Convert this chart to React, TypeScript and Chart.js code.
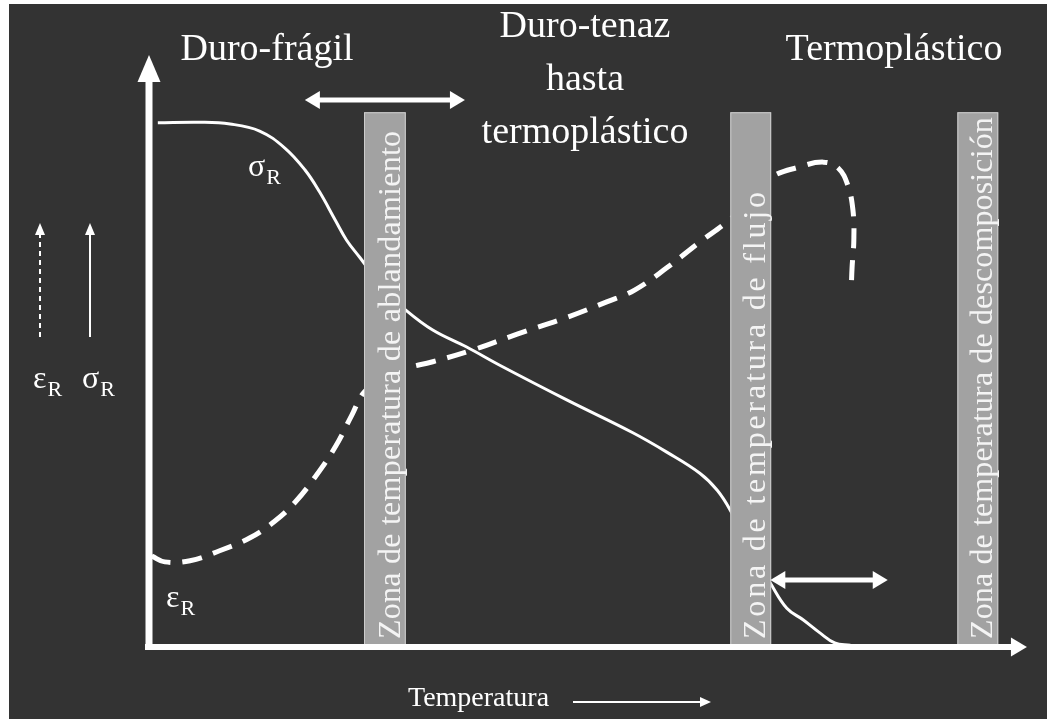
import React, { useEffect, useRef } from "react";
import { Chart, registerables } from "chart.js";

Chart.register(...registerables);

// Temperature axis: 0–100 (arbitrary units); property axis: 0–100 (arbitrary units)
const sigmaTemp = [0.9, 5.75, 9.2, 12.6, 15.5, 17.8, 19.5, 21.3, 22.6, 24.1, 27.0, 29.4, 32.5, 36.4, 40.2, 47.9, 55.5, 59.4, 63.2, 65.2, 66.7, 69.0, 71.3, 73.2, 75.1, 77.0, 78.7, 80.5];
const sigmaVal = [89.3, 89.4, 89.1, 87.9, 85.0, 81.3, 77.5, 72.7, 69.3, 66.4, 60.8, 57.4, 54.0, 51.1, 48.0, 42.1, 36.5, 33.2, 29.6, 26.7, 23.3, 16.5, 10.9, 6.6, 4.6, 2.4, 0.7, 0.3];

const epsTemp = [0.2, 1.7, 4.6, 8.0, 11.5, 14.4, 16.7, 19.0, 21.3, 23.2, 24.6, 27.0, 29.4, 32.5, 37.1, 42.2, 48.0, 52.5, 55.7, 59.4, 63.2, 66.3, 69.0, 71.3, 74.7, 77.4, 79.1, 80.2, 80.8, 80.9, 80.7, 80.6];
const epsVal = [15.5, 14.5, 14.7, 16.4, 18.6, 21.5, 24.7, 29.0, 34.1, 39.5, 43.4, 46.3, 47.5, 48.6, 50.6, 53.3, 56.2, 58.8, 60.8, 64.6, 69.0, 72.4, 76.1, 79.9, 81.8, 82.6, 81.6, 78.7, 74.4, 69.3, 64.7, 60.8];

const zoneLabels = [
  "Zona de temperatura de ablandamiento",
  "Zona de temperatura de flujo",
  "Zona de temperatura de descomposición",
];
const zoneStart = [24.6, 66.7, 92.8];
const zoneEnd = [29.4, 71.4, 97.5];
const zoneTop = [91.1, 91.1, 91.1];

const regionLabels = [["Duro-frágil"], ["Duro-tenaz", "hasta", "termoplástico"], ["Termoplástico"]];
const rangeFrom = [17.8, 71.3];
const rangeTo = [36.2, 84.8];
const rangeAt = [93.2, 11.4];

const xAxisLabel = "Temperatura";
const sigmaName = ["σ", "R"];
const epsName = ["ε", "R"];

const SERIF = '"Liberation Serif", "Times New Roman", serif';
const W = 1038;
const H = 715;

function head(ctx: CanvasRenderingContext2D, tx: number, ty: number, ux: number, uy: number, len: number, half: number) {
  const nx = -uy, ny = ux;
  const bx = tx - ux * len, by = ty - uy * len;
  ctx.beginPath();
  ctx.moveTo(tx, ty);
  ctx.lineTo(bx + nx * half, by + ny * half);
  ctx.lineTo(bx - nx * half, by - ny * half);
  ctx.closePath();
  ctx.fill();
}

function arrow(ctx: CanvasRenderingContext2D, x1: number, y1: number, x2: number, y2: number, width: number, len: number, half: number, both: boolean, dash?: number[]) {
  const dx = x2 - x1, dy = y2 - y1;
  const L = Math.hypot(dx, dy);
  const ux = dx / L, uy = dy / L;
  ctx.save();
  ctx.lineWidth = width;
  ctx.lineCap = "butt";
  ctx.setLineDash(dash || []);
  ctx.beginPath();
  ctx.moveTo(both ? x1 + ux * len * 0.7 : x1, both ? y1 + uy * len * 0.7 : y1);
  ctx.lineTo(x2 - ux * len * 0.7, y2 - uy * len * 0.7);
  ctx.stroke();
  ctx.setLineDash([]);
  head(ctx, x2, y2, ux, uy, len, half);
  if (both) head(ctx, x1, y1, -ux, -uy, len, half);
  ctx.restore();
}

function subLabel(ctx: CanvasRenderingContext2D, parts: string[], x: number, y: number, big: number, small: number) {
  ctx.save();
  ctx.fillStyle = "#ffffff";
  ctx.textAlign = "left";
  ctx.textBaseline = "alphabetic";
  ctx.font = `${big}px ${SERIF}`;
  ctx.fillText(parts[0], x, y);
  const w = ctx.measureText(parts[0]).width;
  ctx.font = `${small}px ${SERIF}`;
  ctx.fillText(parts[1], x + w + 1, y + small * 0.35);
  ctx.restore();
}

const diagramPlugin = {
  id: "diagram",
  afterDatasetsDraw(chart: any) {
    const ctx: CanvasRenderingContext2D = chart.ctx;
    const xs = chart.scales.x;
    const ys = chart.scales.y;
    const px = (v: number) => xs.getPixelForValue(v);
    const py = (v: number) => ys.getPixelForValue(v);
    const y0 = py(0);

    // zones
    ctx.save();
    zoneLabels.forEach((label, i) => {
      const l = px(zoneStart[i]);
      const r = px(zoneEnd[i]);
      const t = py(zoneTop[i]);
      ctx.fillStyle = "#a2a2a2";
      ctx.fillRect(l, t, r - l, y0 - t);
      ctx.strokeStyle = "#cdcdcd";
      ctx.lineWidth = 1;
      ctx.strokeRect(l + 0.5, t + 0.5, r - l - 1, y0 - t - 1);
      // vertical label
      ctx.save();
      ctx.translate(r - 6, y0 - 8);
      ctx.rotate(-Math.PI / 2);
      ctx.font = `32px ${SERIF}`;
      const targets = [508, 447, 522];
      const natural = ctx.measureText(label).width;
      const spacing = (targets[i] - natural) / Math.max(1, label.length - 1);
      (ctx as any).letterSpacing = `${spacing.toFixed(2)}px`;
      ctx.fillStyle = "#f4f4f4";
      ctx.textAlign = "left";
      ctx.textBaseline = "alphabetic";
      ctx.fillText(label, 0, 0);
      ctx.restore();
    });
    ctx.restore();

    ctx.save();
    ctx.fillStyle = "#ffffff";
    ctx.strokeStyle = "#ffffff";
    // axes
    arrow(ctx, px(0) - 1, y0 + 3, px(0) - 1, py(100.85), 7, 27, 11.5, false);
    arrow(ctx, px(0) - 5, y0, px(100.8), y0, 6, 16, 9.5, false);
    // range arrows
    rangeFrom.forEach((f, i) => {
      arrow(ctx, px(f), py(rangeAt[i]), px(rangeTo[i]), py(rangeAt[i]), 5, 15, 9, true);
    });
    // legend arrows at left
    arrow(ctx, 31, 333, 31, 219, 2, 12, 5, false, [5, 4]);
    arrow(ctx, 81, 333, 81, 219, 2, 12, 5, false);
    // temperature arrow
    arrow(ctx, 564, 698, 702, 698, 2, 11, 5, false);
    ctx.restore();

    // texts
    ctx.save();
    ctx.fillStyle = "#ffffff";
    ctx.textBaseline = "alphabetic";
    ctx.textAlign = "center";
    ctx.font = `38px ${SERIF}`;
    ctx.fillText(regionLabels[0][0], 258, 56);
    regionLabels[1].forEach((s, k) => ctx.fillText(s, 576, 33 + k * 53));
    ctx.fillText(regionLabels[2][0], 885, 56);
    ctx.textAlign = "left";
    ctx.font = `28px ${SERIF}`;
    ctx.fillText(xAxisLabel, 399, 702);
    ctx.restore();

    subLabel(ctx, sigmaName, 239, 172, 32, 22);
    subLabel(ctx, epsName, 157, 603, 32, 22);
    subLabel(ctx, epsName, 24, 384, 32, 22);
    subLabel(ctx, sigmaName, 73, 384, 32, 22);
  },
};

export default function App() {
  const ref = useRef<HTMLCanvasElement | null>(null);
  useEffect(() => {
    if (!ref.current) return;
    const chart = new Chart(ref.current, {
      type: "scatter",
      data: {
        datasets: [
          {
            label: "σR",
            data: sigmaTemp.map((t, i) => ({ x: t, y: sigmaVal[i] })),
            showLine: true,
            borderColor: "#ffffff",
            borderWidth: 3,
            pointRadius: 0,
            tension: 0.4,
            fill: false,
          },
          {
            label: "εR",
            data: epsTemp.map((t, i) => ({ x: t, y: epsVal[i] })),
            showLine: true,
            borderColor: "#ffffff",
            borderWidth: 5,
            borderDash: [20, 12],
            borderCapStyle: "butt",
            pointRadius: 0,
            tension: 0.4,
            fill: false,
          },
        ],
      },
      options: {
        animation: false,
        responsive: false,
        devicePixelRatio: 1,
        clip: false as any,
        layout: { padding: { left: 141, right: W - 1011, top: 56, bottom: H - 643 } },
        plugins: { legend: { display: false }, tooltip: { enabled: false }, title: { display: false } },
        scales: {
          x: { type: "linear", min: 0, max: 100, display: false },
          y: { type: "linear", min: 0, max: 100, display: false },
        },
      },
      plugins: [diagramPlugin],
    });
    return () => chart.destroy();
  }, []);
  return (
    <div style={{ position: "absolute", left: 9, top: 4, width: W, height: H, background: "#333333", overflow: "hidden" }}>
      <canvas ref={ref} width={W} height={H} style={{ display: "block", width: W, height: H }} />
    </div>
  );
}
